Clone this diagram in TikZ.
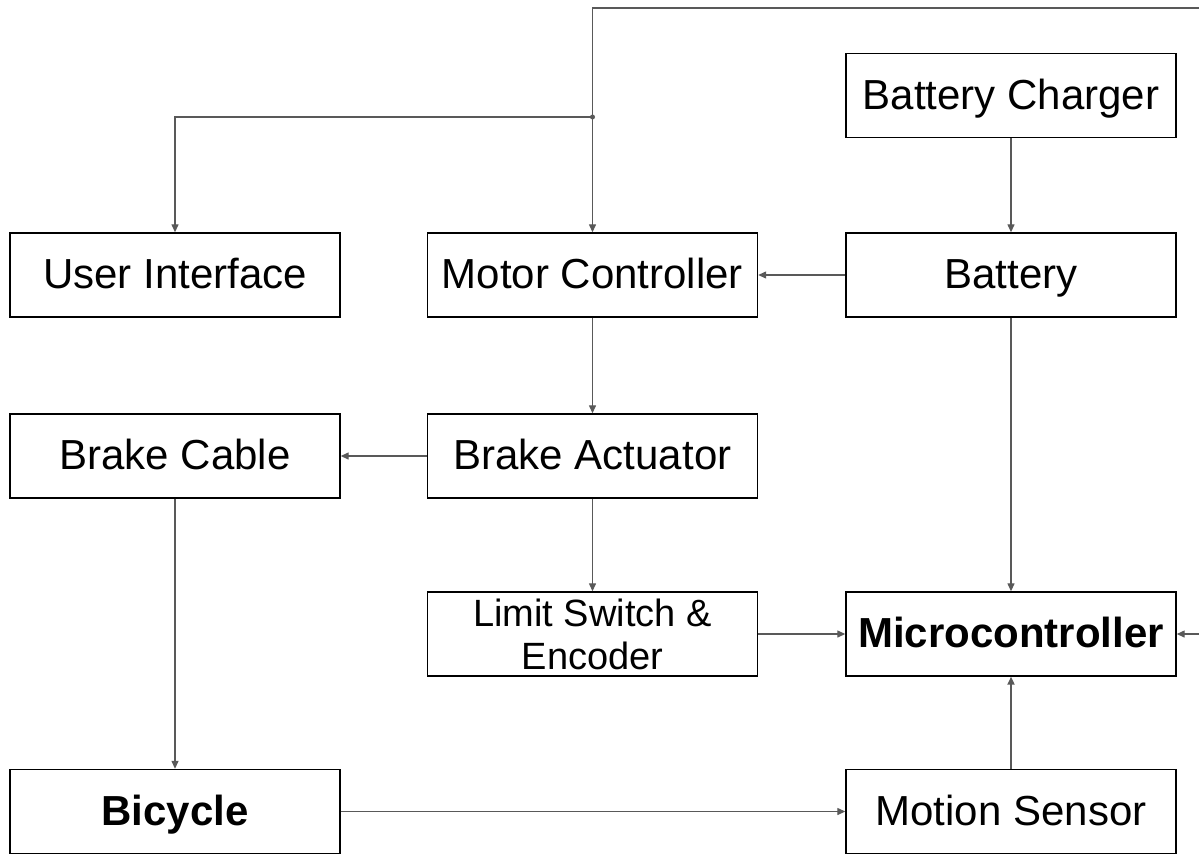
\documentclass[tikz,border=0pt]{standalone}
\usepackage{fontspec}
\setmainfont{Liberation Sans}
\usetikzlibrary{arrows.meta}
\definecolor{linegray}{HTML}{595959}
\begin{document}
\begin{tikzpicture}[x=1pt,y=-1pt,
  box/.style={draw=black,line width=1.4pt,minimum width=330pt,minimum height=84pt,inner sep=0pt,text height=33pt,text depth=6pt,font=\fontsize{42}{49}\selectfont},
  conn/.style={draw=linegray,line width=1.3pt,-{Triangle[length=8pt,width=7pt]}}]
\useasboundingbox (0,0) rectangle (1199,855);
\node[box] (bc) at (1011,95.5) {Battery Charger};
\node[box] (ui) at (175,275) {User Interface};
\node[box] (mc) at (592.5,275) {Motor Controller};
\node[box] (bat) at (1011,275) {Battery};
\node[box] (cab) at (175,456) {Brake Cable};
\node[box] (ba) at (592.5,456) {Brake Actuator};
\node[box] (ls) at (592.5,634) {};
\node[align=center,inner sep=0pt,font=\fontsize{38}{43}\selectfont] (lstext) at (ls.center) {Limit Switch \&\\Encoder};
\node[box,font=\fontsize{42}{49}\selectfont\bfseries] (mcu) at (1011,634) {Microcontroller};
\node[box,font=\fontsize{42}{49}\selectfont\bfseries] (bike) at (175,811.5) {Bicycle};
\node[box] (ms) at (1011,811.5) {Motion Sensor};
\coordinate (topR) at (1199,8);
\coordinate (j) at (592.5,117);
\coordinate (rin) at (1199,634);
\draw[conn] (topR) -| (mc.north);
\draw[conn] (j) -| (ui.north);
\fill[linegray] (j) circle (2.5pt);
\draw[conn] (bc) -- (bat);
\draw[conn] (bat) -- (mc);
\draw[conn] (mc) -- (ba);
\draw[conn] (ba) -- (cab);
\draw[conn] (ba) -- (ls);
\draw[conn] (ls) -- (mcu);
\draw[conn] (bat) -- (mcu);
\draw[conn] (cab) -- (bike);
\draw[conn] (bike) -- (ms);
\draw[conn,line width=2pt] (ms) -- (mcu);
\draw[conn] (rin) -- (mcu.east);
\end{tikzpicture}
\end{document}
